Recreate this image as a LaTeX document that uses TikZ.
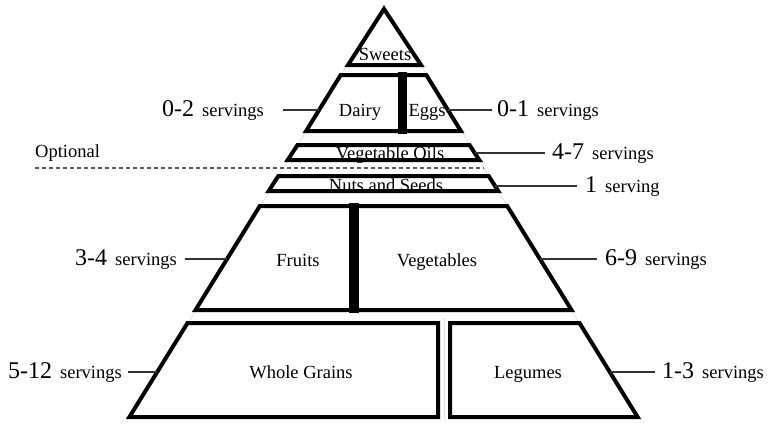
\documentclass[tikz,border=0pt]{standalone}
\usepackage{fontspec}
\setmainfont{Liberation Serif}
\newcommand\srv[2]{{\fontsize{24}{26}\selectfont #1}\hspace{8pt}#2}
\begin{document}
\begin{tikzpicture}[x=1pt,y=-1pt,
  band/.style={draw=black,line width=4pt,line join=miter},
  barfill/.style={fill=black,draw=none},
  txt/.style={inner sep=0pt,font=\fontsize{18.5}{20}\selectfont},
  lead/.style={draw=black!80,line width=1.3pt},
  guide/.style={draw=black!12,line width=0.8pt},
  dline/.style={draw=black!65,line width=1.2pt,dash pattern=on 4pt off 3pt}]
\useasboundingbox (0,0) rectangle (778,426);
% faint guides
\draw[guide] (384,5) -- (129,419);
\draw[guide] (384,5) -- (638,419);
\draw[guide] (444,318) -- (444,420);
% bands
\draw[band] (384,9) -- (421,65) -- (348,65) -- cycle;
\draw[band] (340.7,75) -- (426.3,75) -- (460.9,131) -- (306.1,131) -- cycle;
\fill[barfill] (397.5,72) rectangle (406.5,134);
\draw[band] (297.5,145) -- (469.5,145) -- (479.3,160) -- (287.7,160) -- cycle;
\draw[band] (278.3,176) -- (488.7,176) -- (498.2,191) -- (268.7,191) -- cycle;
\draw[band] (259.8,206) -- (507.2,206) -- (571.5,310) -- (195.5,310) -- cycle;
\fill[barfill] (348.5,203) rectangle (358.5,313);
\draw[band] (187.5,323) -- (438,323) -- (438,417) -- (129.4,417) -- cycle;
\draw[band] (450,323) -- (579.5,323) -- (637.6,417) -- (450,417) -- cycle;
% texts in pyramid
\node[txt,anchor=base] (sweets) at (385,60) {Sweets};
\node[txt,anchor=base] (dairy) at (360,116) {Dairy};
\node[txt,anchor=base] (eggs) at (427,116) {Eggs};
\node[txt,anchor=base] (oils) at (390,159) {Vegetable Oils};
\node[txt,anchor=base] (nuts) at (386,191) {Nuts and Seeds};
\node[txt,anchor=base] (fruits) at (298,266) {Fruits};
\node[txt,anchor=base] (veg) at (437,266) {Vegetables};
\node[txt,anchor=base] (grains) at (301,378) {Whole Grains};
\node[txt,anchor=base] (legumes) at (528,378) {Legumes};
% optional
\node[txt,anchor=base west] (opt) at (35,157) {Optional};
\coordinate (dl) at (35,168);
\coordinate (dr) at (484,168);
\draw[dline] (dl) -- (dr);
% edge points
\coordinate (e02) at (319,110);
\coordinate (e01) at (448,110);
\coordinate (e47) at (474.5,153);
\coordinate (e1) at (495,186);
\coordinate (e34) at (227,259);
\coordinate (e69) at (540,259);
\coordinate (e512) at (157,372);
\coordinate (e13) at (610,372);
% serving labels
\node[txt,anchor=base west] (s02) at (162,116) {\srv{0-2}{servings}};
\node[txt,anchor=base west] (s01) at (497,116) {\srv{0-1}{servings}};
\node[txt,anchor=base west] (s47) at (552,159) {\srv{4-7}{servings}};
\node[txt,anchor=base west] (s1) at (585,192) {\srv{1}{serving}};
\node[txt,anchor=base west] (s34) at (75,265) {\srv{3-4}{servings}};
\node[txt,anchor=base west] (s69) at (605,265) {\srv{6-9}{servings}};
\node[txt,anchor=base east] (s512) at (122,378) {\srv{5-12}{servings}};
\node[txt,anchor=base west] (s13) at (662,378) {\srv{1-3}{servings}};
% leaders
\draw[lead] ([xshift=19pt]s02.east |- e02) -- (e02);
\draw[lead] (e01) -- ([xshift=-5pt]s01.west |- e01);
\draw[lead] (e47) -- ([xshift=-7pt]s47.west |- e47);
\draw[lead] (e1) -- ([xshift=-8pt]s1.west |- e1);
\draw[lead] ([xshift=8pt]s34.east |- e34) -- (e34);
\draw[lead] (e69) -- ([xshift=-8pt]s69.west |- e69);
\draw[lead] ([xshift=6pt]s512.east |- e512) -- (e512);
\draw[lead] (e13) -- ([xshift=-7pt]s13.west |- e13);
\end{tikzpicture}
\end{document}
